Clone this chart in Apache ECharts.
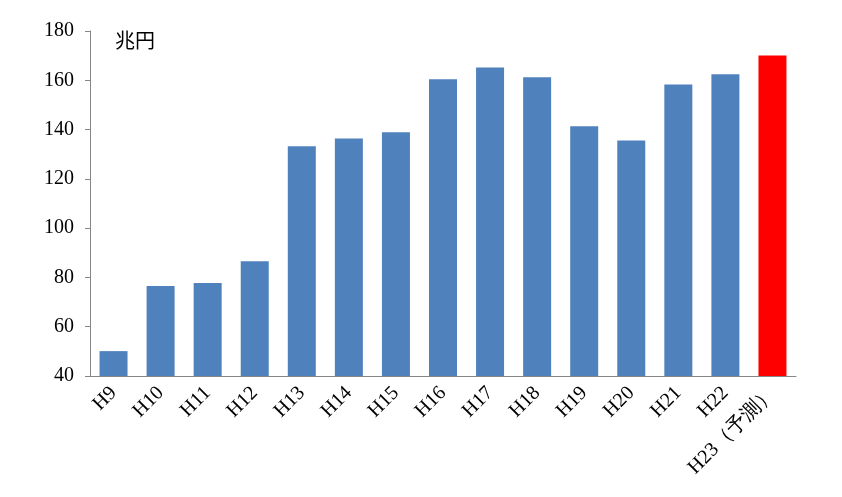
<!DOCTYPE html>
<html><head><meta charset="utf-8">
<script src="https://cdn.jsdelivr.net/npm/echarts@6/dist/echarts.min.js"></script>
<style>html,body{margin:0;padding:0;background:#fff}#c{width:842px;height:497px}</style>
</head><body><div id="c"></div>
<script>
const categories = ['H9','H10','H11','H12','H13','H14','H15','H16','H17','H18','H19','H20','H21','H22','H23（予測）'];
const values = [50.1, 76.5, 77.7, 86.6, 133.2, 136.4, 138.9, 160.4, 165.2, 161.2, 141.3, 135.6, 158.3, 162.4, 170.1];
const highlightIndex = 14;
const unitLabel = '兆円';

const chart = echarts.init(document.getElementById('c'));
const font = '"Liberation Serif", "Times New Roman", serif';
chart.setOption({
  animation: false,
  grid: {left: 90, right: 46, top: 31, bottom: 121, containLabel: false},
  xAxis: {
    type: 'category', data: categories,
    axisLine: {lineStyle: {color: '#868686', width: 1}},
    axisTick: {show: false},
    axisLabel: {rotate: 45, color: '#000', fontFamily: font, fontSize: 20, margin: 14, interval: 0}
  },
  yAxis: {
    type: 'value', min: 40, max: 180, interval: 20,
    axisLine: {show: true, lineStyle: {color: '#868686', width: 1}},
    axisTick: {show: true, length: 5, lineStyle: {color: '#868686'}},
    splitLine: {show: false},
    axisLabel: {color: '#000', fontFamily: font, fontSize: 20, margin: 16}
  },
  graphic: [{type: 'text', left: 115, top: 30, style: {text: unitLabel, font: '20px "Noto Sans CJK JP"', fill: '#000'}}],
  series: [{
    type: 'bar', barWidth: 28,
    data: values.map((v, i) => ({value: v, itemStyle: {color: i === highlightIndex ? '#ff0000' : '#4f81bd'}}))
  }]
});
</script></body></html>
